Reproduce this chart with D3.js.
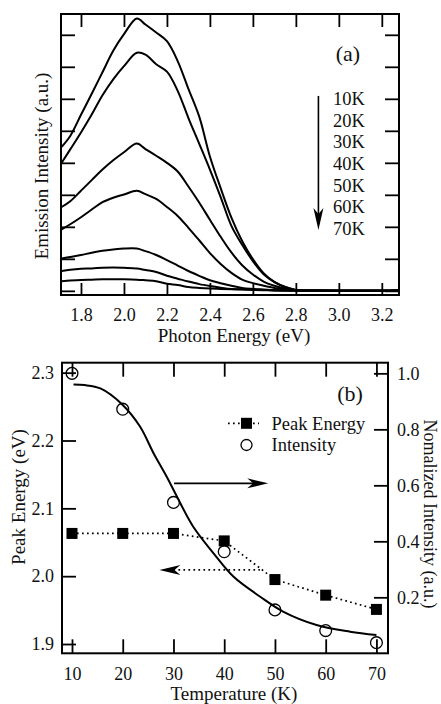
<!DOCTYPE html>
<html><head><meta charset="utf-8">
<script src="https://cdn.jsdelivr.net/npm/d3@7"></script>
<style>
body{margin:0;background:#fff}
svg{display:block}
svg text{font-family:'Liberation Serif','Times New Roman',serif;fill:#111}
</style>
</head><body>
<svg id="c" width="441" height="704"></svg>
<script>
// ---------- Panel (a) data ----------
const energies = [1.71,1.75,1.80,1.85,1.90,1.95,2.00,2.06,2.10,2.15,2.20,2.25,2.30,2.35,2.40,2.45,2.50,2.55,2.60,2.65,2.70,2.75,2.80,2.90,3.00,3.10,3.20,3.28];
const spec10K = [4.50,4.84,5.50,6.16,6.83,7.50,8.02,8.51,8.32,8.07,7.80,7.18,6.31,5.45,4.20,3.21,2.29,1.56,0.99,0.55,0.27,0.12,0.03,0.01,0,0,0,0.01];
const spec20K = [4.00,4.42,4.95,5.51,6.11,6.61,7.02,7.44,7.38,7.08,6.85,6.25,5.40,4.60,3.79,2.93,2.03,1.44,0.93,0.52,0.28,0.12,0.03,0.01,0,0,0,0.01];
const spec30K = [2.62,2.80,3.13,3.46,3.79,4.08,4.33,4.60,4.43,4.22,4.00,3.73,3.26,2.76,2.22,1.69,1.20,0.80,0.51,0.29,0.16,0.07,0.02,0.01,0,0,0,0.01];
const spec40K = [1.92,2.08,2.30,2.54,2.77,2.91,3.01,3.13,3.02,2.87,2.62,2.34,1.97,1.58,1.18,0.84,0.56,0.35,0.24,0.16,0.09,0.04,0.02,0.01,0,0,0,0.01];
const spec50K = [1.01,1.06,1.12,1.19,1.25,1.29,1.32,1.32,1.24,1.12,0.96,0.79,0.62,0.47,0.33,0.24,0.16,0.09,0.06,0.04,0.02,0.01,0.01,0,0,0,0,0.01];
const spec60K = [0.62,0.66,0.69,0.70,0.72,0.73,0.72,0.70,0.65,0.59,0.47,0.38,0.29,0.21,0.15,0.10,0.06,0.05,0.04,0.03,0.02,0.01,0.01,0,0,0,0,0.01];
const spec70K = [0.30,0.32,0.34,0.35,0.36,0.36,0.36,0.35,0.33,0.30,0.22,0.18,0.12,0.09,0.07,0.06,0.05,0.04,0.03,0.02,0.01,0.01,0,0,0,0,0,0.01];
const tempLabels = ["10K","20K","30K","40K","50K","60K","70K"];
const energyTicks = [1.8,2.0,2.2,2.4,2.6,2.8,3.0,3.2];
const intensityTicks = [0,1,2,3,4,5,6,7,8];

// ---------- Panel (b) data ----------
const temperatures = [10,20,30,40,50,60,70];
const peakEnergy = [2.063,2.063,2.063,2.052,1.995,1.972,1.951];
const normIntensity = [1.0,0.872,0.539,0.363,0.155,0.081,0.038];
const fitT = [10.3,12.5,15.6,20,23.4,26.1,28.7,30.7,33.9,37.9,41.8,47.1,51.6,58.2,64.8,70];
const fitI = [0.96,0.958,0.946,0.887,0.81,0.714,0.63,0.559,0.452,0.357,0.274,0.202,0.149,0.101,0.077,0.065];
const tempTicks = [10,20,30,40,50,60,70];
const peakTicks = [1.9,2.0,2.1,2.2,2.3];
const normTicks = [0.2,0.4,0.6,0.8,1.0];

const svg = d3.select("#c");
const FONT = "'Liberation Serif','Times New Roman',serif";
const TICK = 14;

function styleAxis(g, size){
  g.attr("font-family", FONT).attr("font-size", size);
  g.select(".domain").remove();
  g.selectAll(".tick line").attr("stroke","#000").attr("stroke-width",1.8);
  g.selectAll(".tick text").attr("fill","#111").style("font-family", FONT);
}

// ================= Panel (a) =================
const ax = {l:61, r:399, t:14, b:295};
const xA = d3.scaleLinear([1.707, 3.28], [ax.l, ax.r]);
const yA = d3.scaleLinear([-0.13, 8.65], [ax.b, ax.t]);

const gA = svg.append("g");
const lineA = d3.line().x((d,i)=>xA(energies[i])).y(d=>yA(d)).curve(d3.curveCatmullRom.alpha(0.5));
[spec10K,spec20K,spec30K,spec40K,spec50K,spec60K,spec70K].forEach(s=>{
  gA.append("path").attr("d", lineA(s)).attr("fill","none").attr("stroke","#000").attr("stroke-width",2).attr("stroke-linejoin","round");
});

gA.append("g").attr("transform",`translate(0,${ax.b})`)
  .call(d3.axisBottom(xA).tickValues(energyTicks).tickSize(-12).tickPadding(13).tickFormat(d3.format(".1f")))
  .call(g=>styleAxis(g,18));
gA.append("g").attr("transform",`translate(0,${ax.t})`)
  .call(d3.axisTop(xA).tickValues(energyTicks).tickSize(-13).tickFormat(""))
  .call(g=>styleAxis(g,18));
gA.append("g").attr("transform",`translate(${ax.l},0)`)
  .call(d3.axisLeft(yA).tickValues(intensityTicks).tickSize(-TICK).tickFormat(""))
  .call(g=>styleAxis(g,18));
gA.append("g").attr("transform",`translate(${ax.r},0)`)
  .call(d3.axisRight(yA).tickValues(intensityTicks).tickSize(-TICK).tickFormat(""))
  .call(g=>styleAxis(g,18));
gA.append("rect").attr("x",ax.l).attr("y",ax.t).attr("width",ax.r-ax.l).attr("height",ax.b-ax.t)
  .attr("fill","none").attr("stroke","#000").attr("stroke-width",2);

gA.append("text").attr("x",348).attr("y",61).attr("text-anchor","middle").attr("font-size",22).text("(a)");
tempLabels.forEach((t,i)=>{
  gA.append("text").attr("x",333).attr("y",105+i*21.67).attr("font-size",18.5).text(t);
});
// downward arrow
{
  const x0 = xA(2.905), y0 = yA(6.09), y1 = yA(1.90);
  gA.append("line").attr("x1",x0).attr("x2",x0).attr("y1",y0).attr("y2",y1-12).attr("stroke","#000").attr("stroke-width",1.6);
  gA.append("path").attr("d",`M${x0},${y1} L${x0-5},${y1-22} L${x0},${y1-16} L${x0+5},${y1-22} Z`).attr("fill","#000");
}
svg.append("text").attr("x",234).attr("y",342).attr("text-anchor","middle").attr("font-size",19).text("Photon Energy (eV)");
svg.append("text").attr("transform",`translate(48,166) rotate(-90)`).attr("text-anchor","middle").attr("font-size",19).text("Emission Intensity (a.u.)");

// ================= Panel (b) =================
const bx = {l:62, r:388, t:362.7, b:653.3};
const xB = d3.scaleLinear([8.03, 72.28], [bx.l, bx.r]);
const yL = d3.scaleLinear([1.8863, 2.3147], [bx.b, bx.t]);
const yR = d3.scaleLinear([0, 1.038], [bx.b, bx.t]);
const gB = svg.append("g");

gB.append("g").attr("transform",`translate(0,${bx.b})`)
  .call(d3.axisBottom(xB).tickValues(tempTicks).tickSize(-TICK).tickPadding(14))
  .call(g=>styleAxis(g,18));
gB.append("g").attr("transform",`translate(0,${bx.t})`)
  .call(d3.axisTop(xB).tickValues(tempTicks).tickSize(-TICK).tickFormat(""))
  .call(g=>styleAxis(g,18));
gB.append("g").attr("transform",`translate(${bx.l},0)`)
  .call(d3.axisLeft(yL).tickValues(peakTicks).tickSize(-TICK).tickPadding(8).tickFormat(d3.format(".1f")))
  .call(g=>styleAxis(g,18));
gB.append("g").attr("transform",`translate(${bx.r},0)`)
  .call(d3.axisRight(yR).tickValues(normTicks).tickSize(-TICK).tickPadding(9).tickFormat(d3.format(".1f")))
  .call(g=>styleAxis(g,18));
gB.append("rect").attr("x",bx.l).attr("y",bx.t).attr("width",bx.r-bx.l).attr("height",bx.b-bx.t)
  .attr("fill","none").attr("stroke","#000").attr("stroke-width",2);

// fit line
gB.append("path")
  .attr("d", d3.line().x((d,i)=>xB(fitT[i])).y(d=>yR(d)).curve(d3.curveCatmullRom.alpha(0.5))(fitI))
  .attr("fill","none").attr("stroke","#000").attr("stroke-width",2);
// dotted peak energy line
gB.append("path")
  .attr("d", d3.line().x((d,i)=>xB(temperatures[i])).y(d=>yL(d))(peakEnergy))
  .attr("fill","none").attr("stroke","#000").attr("stroke-width",1.7).attr("stroke-dasharray","1.7,3.3");
// squares
const SQ = 11;
gB.selectAll("rect.sq").data(peakEnergy).join("rect").attr("class","sq")
  .attr("x",(d,i)=>xB(temperatures[i])-SQ/2).attr("y",d=>yL(d)-SQ/2)
  .attr("width",SQ).attr("height",SQ).attr("fill","#000");
// circles
gB.selectAll("circle.ci").data(normIntensity).join("circle").attr("class","ci")
  .attr("cx",(d,i)=>xB(temperatures[i])).attr("cy",d=>yR(d)).attr("r",5.9)
  .attr("fill","none").attr("stroke","#000").attr("stroke-width",1.3);

// arrows
{
  const y = yR(0.607), x0 = xB(30.12), x1 = xB(48.67);
  gB.append("line").attr("x1",x0).attr("x2",x1-14).attr("y1",y).attr("y2",y).attr("stroke","#000").attr("stroke-width",1.6);
  gB.append("path").attr("d",`M${x1},${y} L${x1-21},${y-5} L${x1-15},${y} L${x1-21},${y+5} Z`).attr("fill","#000");
}
{
  const y = yL(2.0092), xt = xB(27.23), xe = xB(47.04);
  gB.append("line").attr("x1",xt+14).attr("x2",xe).attr("y1",y).attr("y2",y).attr("stroke","#000").attr("stroke-width",1.7).attr("stroke-dasharray","1.7,3.3");
  gB.append("path").attr("d",`M${xt},${y} L${xt+21},${y-5} L${xt+15},${y} L${xt+21},${y+5} Z`).attr("fill","#000");
}

// legend
gB.append("text").attr("x",350).attr("y",401).attr("text-anchor","middle").attr("font-size",22).text("(b)");
gB.append("line").attr("x1",228).attr("x2",259).attr("y1",423.3).attr("y2",423.3).attr("stroke","#000").attr("stroke-width",1.7).attr("stroke-dasharray","1.7,3.3");
gB.append("rect").attr("x",246.5-SQ/2).attr("y",423.3-SQ/2).attr("width",SQ).attr("height",SQ).attr("fill","#000");
gB.append("circle").attr("cx",246.5).attr("cy",445).attr("r",5.5).attr("fill","none").attr("stroke","#000").attr("stroke-width",1.3);
gB.append("text").attr("x",271.5).attr("y",429.5).attr("font-size",18.5).text("Peak Energy");
gB.append("text").attr("x",271.5).attr("y",451).attr("font-size",18.5).text("Intensity");

svg.append("text").attr("x",234).attr("y",700).attr("text-anchor","middle").attr("font-size",19).text("Temperature (K)");
svg.append("text").attr("transform",`translate(25,497) rotate(-90)`).attr("text-anchor","middle").attr("font-size",19).text("Peak Energy (eV)");
svg.append("text").attr("transform",`translate(424,514) rotate(90)`).attr("text-anchor","middle").attr("font-size",18).text("Nomalized Intensity (a.u.)");
</script>
</body></html>
